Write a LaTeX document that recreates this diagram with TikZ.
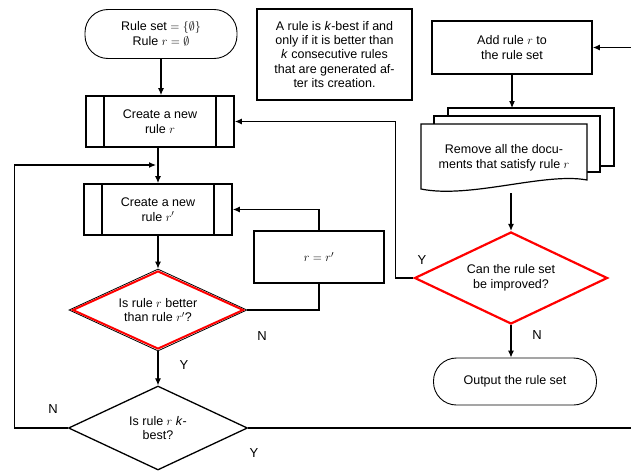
\documentclass[tikz,border=0pt]{standalone}
\usepackage{fontspec}
\setmainfont{Liberation Sans}
\usepackage{amssymb}
\usepackage{amsmath}
\usetikzlibrary{arrows.meta,shapes.geometric,positioning}
\tikzset{
  txt/.style={font=\fontsize{12.5}{14.5}\selectfont, align=center, inner sep=0pt},
  term/.style={txt, draw, rounded corners=23pt, line width=0.9pt},
  boxnode/.style={txt, draw, rectangle, line width=1.7pt},
  procnode/.style={boxnode, path picture={
      \draw[line width=1.7pt] ([xshift=18pt]path picture bounding box.north west) -- ([xshift=18pt]path picture bounding box.south west)
        ([xshift=-18pt]path picture bounding box.north east) -- ([xshift=-18pt]path picture bounding box.south east);}},
  decnode/.style={txt, diamond, aspect=2.2, draw},
  flow/.style={line width=1.1pt, -{Latex[length=7pt,width=6pt]}},
  link/.style={line width=1.1pt},
  docline/.style={line width=1.2pt, fill=white},
  yn/.style={font=\fontsize{13}{15}\selectfont, inner sep=0pt}
}
\begin{document}
\begin{tikzpicture}[x=1pt,y=-1pt]
\useasboundingbox (0,0) rectangle (631,471);
\clip (0,0) rectangle (631,471);
\node[term, minimum width=152pt, minimum height=49pt] (start) at (161,34) {Rule set $=\{\emptyset\}$\\ Rule $r=\emptyset$};
\node[boxnode, minimum width=155pt, minimum height=91pt, font=\fontsize{12.5}{14.3}\selectfont] (note) at (334.5,54.5)
  {A rule is \textit{k}-best if and\\only if it is better than\\\textit{k} consecutive rules\\that are generated af-\\ter its creation.};
\node[procnode, minimum width=148pt, minimum height=51pt] (newr) at (160,121.5) {Create a new\\rule $r$};
\node[procnode, minimum width=148pt, minimum height=51pt] (newrp) at (158,209.5) {Create a new\\rule $r'$};
\node[boxnode, line width=1.5pt, minimum width=130pt, minimum height=52pt] (swap) at (319,257) {$r=r'$};
\node[decnode, line width=0.8pt, minimum width=178pt, minimum height=82pt] (better) at (158,310) {};
\node[decnode, draw=red, line width=2pt, minimum width=171pt, minimum height=78pt] (betterin) at (158,310) {Is rule $r$ better\\than rule $r'$?};
\node[decnode, line width=1.3pt, minimum width=179pt, minimum height=84pt] (kbest) at (158,428) {Is rule $r$ \textit{k}-\\best?};
\node[boxnode, minimum width=160pt, minimum height=53pt] (add) at (512,47.5) {Add rule $r$ to\\the rule set};
\draw[docline] (448,108) rectangle (614,166);
\draw[docline] (434,116) rectangle (600,172);
\draw[docline] (421,124) -- (587,124) -- (587,180) .. controls (545,172) and (470,199) .. (421,189) -- cycle;
\node[txt] (docs) at (504,158) {Remove all the docu-\\ments that satisfy rule $r$};
\coordinate (docin) at (512,108);
\coordinate (docout) at (511,193);
\node[decnode, draw=red, line width=2.2pt, minimum width=193pt, minimum height=92pt] (improve) at (511,278) {Can the rule set\\be improved?};
\node[term, minimum width=163pt, minimum height=47pt] (output) at (515,381.5) {Output the rule set};
\coordinate (join) at (156,165);
\coordinate (rb) at (650,428);
\coordinate (rt) at (650,47.5);

\draw[flow] (start.south) -- (start.south |- newr.north);
\draw[flow] (newrp.north |- newr.south) -- (newrp.north);
\draw[flow] (kbest.west) -- ++(-53,0) |- (join);
\draw[flow] (newrp.south) -- (better.north);
\draw[link] (better.east) -| (swap.south);
\draw[flow] (swap.north) |- (newrp.east);
\draw[flow] (better.south) -- (kbest.north);
\draw[flow] (kbest.east) -- (rb) -- (rt) -- (add.east);
\draw[flow] (add.south) -- (docin);
\draw[flow] (docout) -- (docout |- improve.north);
\draw[flow] (improve.west) -- ++(-18,0) |- (newr.east);
\draw[flow] (improve.south) -- (improve.south |- output.north);

\node[yn] (n1) at (262,336) {N};
\node[yn] (y1) at (184,365) {Y};
\node[yn] (n2) at (53,409) {N};
\node[yn] (y2) at (254,453) {Y};
\node[yn] (y3) at (422,260) {Y};
\node[yn] (n3) at (537,335) {N};
\end{tikzpicture}
\end{document}
